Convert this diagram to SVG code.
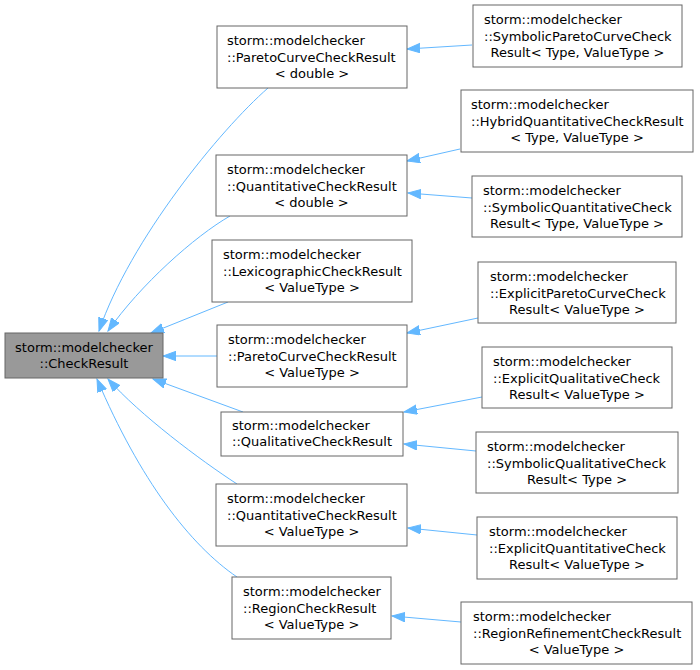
<svg xmlns="http://www.w3.org/2000/svg" width="700" height="670" viewBox="0 0 700 670">
<style>
.box{fill:#ffffff;stroke:#666666;stroke-width:1}
.root{fill:#999999;stroke:#666666;stroke-width:1}
text{font-family:"DejaVu Sans","Liberation Sans",sans-serif;font-size:13px;fill:#000000}
.c{text-anchor:middle}
.e{fill:none;stroke:#63b8ff;stroke-width:1;marker-end:url(#ah)}
</style>
<defs>
<marker id="ah" markerUnits="userSpaceOnUse" markerWidth="14" markerHeight="11" refX="13" refY="5" orient="auto">
<path d="M0,0.3 L13,5 L0,9.7 z" fill="#63b8ff" stroke="#63b8ff" stroke-width="1"/>
</marker>
</defs>
<rect width="700" height="670" fill="#ffffff"/>
<g id="connectors">
<path class="e" d="M268,88 C220,130 130,240 99,331"/>
<path class="e" d="M230,216 C195,236 140,285 108,331"/>
<path class="e" d="M228,302 L151,333"/>
<path class="e" d="M217,356 L163,356"/>
<path class="e" d="M243,412 L153,379"/>
<path class="e" d="M237,484 C200,460 140,415 108,379"/>
<path class="e" d="M237,577 C190,545 140,480 97,379"/>
<path class="e" d="M472,45 L407,49"/>
<path class="e" d="M460,149 L407,161"/>
<path class="e" d="M472,198 L408,193"/>
<path class="e" d="M478,318 L407,333"/>
<path class="e" d="M482,397 L404,412"/>
<path class="e" d="M476,451 L404,444"/>
<path class="e" d="M477,535 L408,528"/>
<path class="e" d="M461,622 L392,616"/>
</g>
<g id="n0">
<rect class="root" x="5" y="333" width="158" height="45"/>
<text class="c" x="84" y="351.5">storm::modelchecker</text>
<text class="c" x="84" y="368">::CheckResult</text>
</g>
<g id="n1">
<rect class="box" x="217" y="26" width="190" height="62"/>
<text x="227" y="45">storm::modelchecker</text>
<text x="227" y="61.5">::ParetoCurveCheckResult</text>
<text class="c" x="312" y="78">&lt; double &gt;</text>
</g>
<g id="n2">
<rect class="box" x="473" y="5" width="209" height="62"/>
<text x="484" y="24">storm::modelchecker</text>
<text x="484" y="40.5">::SymbolicParetoCurveCheck</text>
<text class="c" x="577.5" y="57">Result&lt; Type, ValueType &gt;</text>
</g>
<g id="n3">
<rect class="box" x="461" y="90" width="232" height="62"/>
<text x="471" y="109">storm::modelchecker</text>
<text x="471" y="125.5">::HybridQuantitativeCheckResult</text>
<text class="c" x="577" y="142">&lt; Type, ValueType &gt;</text>
</g>
<g id="n4">
<rect class="box" x="472" y="176" width="210" height="61"/>
<text x="483" y="195">storm::modelchecker</text>
<text x="483" y="211.5">::SymbolicQuantitativeCheck</text>
<text class="c" x="577" y="228">Result&lt; Type, ValueType &gt;</text>
</g>
<g id="n5">
<rect class="box" x="216" y="155" width="191" height="61"/>
<text x="227" y="174">storm::modelchecker</text>
<text x="227" y="190.5">::QuantitativeCheckResult</text>
<text class="c" x="311.5" y="207">&lt; double &gt;</text>
</g>
<g id="n6">
<rect class="box" x="212" y="240" width="200" height="62"/>
<text x="223" y="259">storm::modelchecker</text>
<text x="223" y="275.5">::LexicographicCheckResult</text>
<text class="c" x="312" y="292">&lt; ValueType &gt;</text>
</g>
<g id="n7">
<rect class="box" x="217" y="325" width="190" height="62"/>
<text x="228" y="344">storm::modelchecker</text>
<text x="228" y="360.5">::ParetoCurveCheckResult</text>
<text class="c" x="312" y="377">&lt; ValueType &gt;</text>
</g>
<g id="n8">
<rect class="box" x="221" y="412" width="182" height="44"/>
<text x="232" y="429.5">storm::modelchecker</text>
<text x="232" y="446">::QualitativeCheckResult</text>
</g>
<g id="n9">
<rect class="box" x="216" y="484" width="191" height="62"/>
<text x="227" y="503">storm::modelchecker</text>
<text x="227" y="519.5">::QuantitativeCheckResult</text>
<text class="c" x="311.5" y="536">&lt; ValueType &gt;</text>
</g>
<g id="n10">
<rect class="box" x="232" y="577" width="159" height="62"/>
<text x="243" y="596">storm::modelchecker</text>
<text x="243" y="612.5">::RegionCheckResult</text>
<text class="c" x="311.5" y="629">&lt; ValueType &gt;</text>
</g>
<g id="n11">
<rect class="box" x="478" y="262" width="198" height="61"/>
<text x="490" y="281">storm::modelchecker</text>
<text x="490" y="297.5">::ExplicitParetoCurveCheck</text>
<text class="c" x="577" y="314">Result&lt; ValueType &gt;</text>
</g>
<g id="n12">
<rect class="box" x="482" y="347" width="190" height="61"/>
<text x="493" y="366">storm::modelchecker</text>
<text x="493" y="382.5">::ExplicitQualitativeCheck</text>
<text class="c" x="577" y="399">Result&lt; ValueType &gt;</text>
</g>
<g id="n13">
<rect class="box" x="476" y="432" width="202" height="61"/>
<text x="487" y="451">storm::modelchecker</text>
<text x="487" y="467.5">::SymbolicQualitativeCheck</text>
<text class="c" x="577" y="484">Result&lt; Type &gt;</text>
</g>
<g id="n14">
<rect class="box" x="477" y="517" width="200" height="62"/>
<text x="489" y="536">storm::modelchecker</text>
<text x="489" y="552.5">::ExplicitQuantitativeCheck</text>
<text class="c" x="577" y="569">Result&lt; ValueType &gt;</text>
</g>
<g id="n15">
<rect class="box" x="461" y="602" width="231" height="62"/>
<text x="473" y="621">storm::modelchecker</text>
<text x="473" y="637.5">::RegionRefinementCheckResult</text>
<text class="c" x="576.5" y="654">&lt; ValueType &gt;</text>
</g>
</svg>
